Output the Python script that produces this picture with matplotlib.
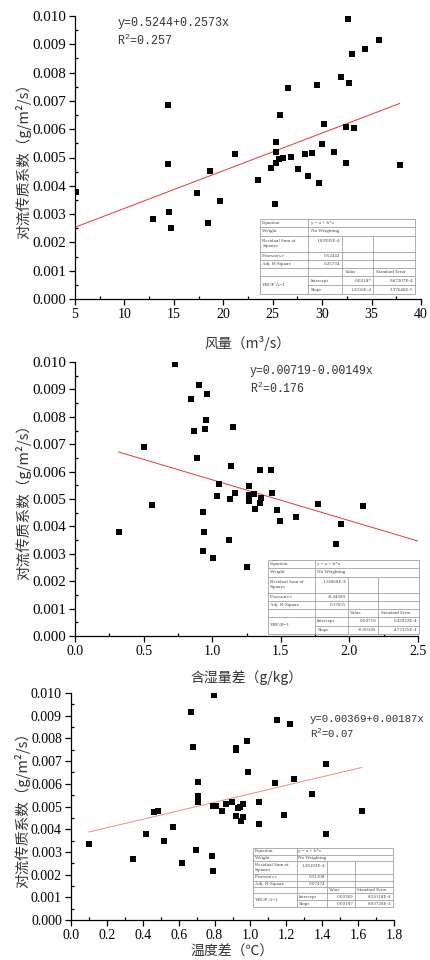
import matplotlib
matplotlib.use('Agg')
import matplotlib.pyplot as plt
from matplotlib.ticker import MultipleLocator, FormatStrFormatter
from matplotlib.patches import Rectangle
from matplotlib.lines import Line2D
import numpy as np

# ---------------- data ----------------
wind_x = [5.13, 12.93, 14.42, 14.38, 14.48, 14.75, 17.39, 18.50, 18.70, 19.65,
          21.20, 23.53, 24.81, 25.25, 25.38, 25.38, 25.38, 25.65, 25.76, 25.99,
          26.53, 26.80, 27.51, 28.25, 28.52, 28.93, 29.50, 29.71, 30.01, 30.21,
          31.16, 31.94, 32.38, 32.41, 32.62, 32.72, 33.05, 33.22, 34.36, 35.78, 37.84]
wind_y = [0.00378, 0.00282, 0.00687, 0.00478, 0.00309, 0.00251, 0.00376, 0.00267, 0.00452, 0.00348,
          0.00512, 0.00420, 0.00462, 0.00335, 0.00554, 0.00520, 0.00481, 0.00496, 0.00649, 0.00500,
          0.00747, 0.00502, 0.00458, 0.00511, 0.00434, 0.00516, 0.00756, 0.00409, 0.00547, 0.00620,
          0.00521, 0.00786, 0.00481, 0.00607, 0.00991, 0.00764, 0.00865, 0.00604, 0.00884, 0.00916, 0.00473]

hum_x = [0.318, 0.500, 0.559, 0.726, 0.843, 0.867, 0.892, 0.901, 0.935, 0.935,
         0.940, 0.948, 0.955, 0.965, 1.008, 1.033, 1.052, 1.122, 1.132, 1.135,
         1.149, 1.169, 1.256, 1.268, 1.271, 1.271, 1.302, 1.310, 1.346, 1.351,
         1.353, 1.431, 1.438, 1.455, 1.475, 1.494, 1.613, 1.771, 1.905, 1.941, 2.099]
hum_y = [0.00378, 0.00688, 0.00479, 0.00991, 0.00865, 0.00748, 0.00650, 0.00917, 0.00452, 0.00310,
         0.00378, 0.00756, 0.00787, 0.00883, 0.00283, 0.00512, 0.00556, 0.00349, 0.00500, 0.00622,
         0.00763, 0.00521, 0.00252, 0.00494, 0.00548, 0.00515, 0.00520, 0.00462, 0.00605, 0.00484,
         0.00502, 0.00606, 0.00521, 0.00268, 0.00459, 0.00421, 0.00434, 0.00480, 0.00335, 0.00410, 0.00474]

temp_x = [0.100, 0.347, 0.416, 0.462, 0.486, 0.516, 0.566, 0.616, 0.670, 0.681,
          0.696, 0.705, 0.705, 0.705, 0.785, 0.790, 0.792, 0.796, 0.807, 0.841,
          0.861, 0.896, 0.917, 0.920, 0.920, 0.933, 0.941, 0.945, 0.961, 0.961,
          0.982, 0.985, 1.045, 1.045, 1.139, 1.150, 1.186, 1.221, 1.240, 1.345,
          1.420, 1.420, 1.620]
temp_y = [0.00336, 0.00268, 0.00378, 0.00475, 0.00482, 0.00349, 0.00411, 0.00252, 0.00918, 0.00764,
          0.00309, 0.00609, 0.00548, 0.00518, 0.00284, 0.00214, 0.00504, 0.00991, 0.00501, 0.00482,
          0.00512, 0.00522, 0.00748, 0.00758, 0.00459, 0.00494, 0.00497, 0.00435, 0.00512, 0.00452,
          0.00787, 0.00650, 0.00522, 0.00421, 0.00604, 0.00883, 0.00463, 0.00865, 0.00622, 0.00556,
          0.00689, 0.00378, 0.00478]

# linear fits (intercept, slope) and drawn x-range of the fit line
wind_fit = (0.00187, 1.3316e-4)
hum_fit = (0.00719, -0.00149)
temp_fit = (0.00369, 0.00187)
wind_fit_range = [5.0, 37.84]
hum_fit_range = [0.318, 2.5]
temp_fit_range = [0.100, 1.620]

# annotation texts
wind_eq = ["y=0.5244+0.2573x", "R$^2$=0.257"]
hum_eq = ["y=0.00719-0.00149x", "R$^2$=0.176"]
temp_eq = ["y=0.00369+0.00187x", "R$^2$=0.07"]

# axis labels
ylabel_txt = "对流传质系数（g/m²/s）"
wind_xlabel = "风量（m³/s）"
hum_xlabel = "含湿量差（g/kg）"
temp_xlabel = "温度差（℃）"

# fit tables
wind_table = ["y = a + b*x", "No Weighting", "1.02995E-4", "0.52442", "0.25734",
              "YBOP:A=1", "0.00187", "9.67207E-4", "1.3316E-4", "3.37646E-5"]
hum_table = ["y = a + b*x", "No Weighting", "1.14068E-4", "-0.44289", "0.17655",
             "YBP:B=1", "0.00719", "6.42922E-4", "-0.00149", "4.72325E-4"]
temp_table = ["y = a + b*x", "No Weighting", "1.28193E-4", "0.31108", "0.07474",
              "YBOP:A=1", "0.00369", "8.24118E-4", "0.00187", "8.93728E-4"]

# ---------------- drawing ----------------
CJK = ['Noto Sans CJK SC', 'DejaVu Sans']
SERIF = ['Liberation Serif', 'DejaVu Serif']
MONO = ['Liberation Mono', 'DejaVu Sans Mono']
plt.rcParams['mathtext.fontset'] = 'custom'
plt.rcParams['mathtext.rm'] = 'Liberation Mono'

fig = plt.figure(figsize=(4.3, 9.6), dpi=100)


def draw_table(ax, bbox, t):
    x0, y0, x1, y1 = bbox
    cols = np.array([0, 145, 247, 340, 465]) / 465.0
    rows = np.array([0, 25, 50, 99, 124, 148, 172, 199, 225]) / 225.0
    X = x0 + cols * (x1 - x0)
    Y = y1 - rows * (y1 - y0)
    ec = '#a0a0a0'
    lw = 0.6
    kw = dict(transform=ax.transAxes, clip_on=False, zorder=6)
    ax.add_patch(Rectangle((x0, y0), x1 - x0, y1 - y0, facecolor='white',
                           edgecolor=ec, lw=lw, transform=ax.transAxes,
                           clip_on=False, zorder=5))
    for i in range(1, 8):
        xs = X[0] if i != 7 else X[1]
        ax.add_line(Line2D([xs, X[4]], [Y[i], Y[i]], color=ec, lw=lw, **kw))
    ax.add_line(Line2D([X[1], X[1]], [Y[0], Y[8]], color=ec, lw=lw, **kw))
    for c in (2, 3):
        ax.add_line(Line2D([X[c], X[c]], [Y[2], Y[8]], color=ec, lw=lw, **kw))
    fs = 3.6
    tk = dict(transform=ax.transAxes, fontsize=fs, family=SERIF, color='#444444',
              zorder=7, clip_on=False)
    padx = 0.006
    def cell(r, c, s, ha='left', va='center', r2=None):
        if ha == 'left':
            xx = X[c] + padx
        else:
            xx = X[c + 1] - padx
        if va == 'center':
            yy = (Y[r] + Y[r + 1 if r2 is None else r2]) / 2
        else:
            yy = Y[r] - 0.012
        ax.text(xx, yy, s, ha=ha, va=va, **tk)
    cell(0, 0, "Equation"); cell(0, 1, t[0])
    cell(1, 0, "Weight"); cell(1, 1, t[1])
    cell(2, 0, "Residual Sum of\nSquares"); cell(2, 1, t[2], ha='right', va='top')
    cell(3, 0, "Pearson's r"); cell(3, 1, t[3], ha='right')
    cell(4, 0, "Adj. R-Square"); cell(4, 1, t[4], ha='right')
    cell(5, 2, "Value"); cell(5, 3, "Standard Error")
    cell(6, 0, t[5], r2=8)
    cell(6, 1, "Intercept"); cell(6, 2, t[6], ha='right'); cell(6, 3, t[7], ha='right')
    cell(7, 1, "Slope"); cell(7, 2, t[8], ha='right'); cell(7, 3, t[9], ha='right')


def panel(rect, x, y, fit, frange, linecolor, xlim, xmaj, xfmt, xlabel,
          eq, eqpos, eqfs, table, tbbox, ytick_fs, xtick_fs, xlabelpad):
    ax = fig.add_axes(rect)
    ax.scatter(x, y, marker='s', s=19, c='black', linewidths=0, zorder=3)
    xf = np.array(frange)
    ax.plot(xf, fit[0] + fit[1] * xf, color=linecolor, lw=0.75, zorder=2)
    ax.set_xlim(*xlim)
    ax.set_ylim(0, 0.010)
    for s in ('top', 'right'):
        ax.spines[s].set_visible(False)
    for s in ('left', 'bottom'):
        ax.spines[s].set_linewidth(0.9)
    ax.yaxis.set_major_locator(MultipleLocator(0.001))
    ax.yaxis.set_minor_locator(MultipleLocator(0.0005))
    ax.yaxis.set_major_formatter(FormatStrFormatter('%.3f'))
    ax.xaxis.set_major_locator(MultipleLocator(xmaj))
    ax.xaxis.set_minor_locator(MultipleLocator(xmaj / 2))
    ax.xaxis.set_major_formatter(FormatStrFormatter(xfmt))
    ax.tick_params(which='major', direction='out', length=4.5, width=0.9, pad=2)
    ax.tick_params(which='minor', direction='in', length=2.5, width=0.9)
    for lab in ax.get_yticklabels():
        lab.set_family(SERIF); lab.set_fontsize(ytick_fs)
    for lab in ax.get_xticklabels():
        lab.set_family(SERIF); lab.set_fontsize(xtick_fs)
    ax.set_ylabel(ylabel_txt, family=CJK, fontsize=10.5, color='#333333')
    ax.yaxis.set_label_coords(-0.127, 0.5)
    ax.set_xlabel(xlabel, family=CJK, fontsize=10, color='#333333', labelpad=xlabelpad)
    ax.text(eqpos[0], eqpos[1], eq[0], transform=ax.transAxes, family=MONO,
            fontsize=eqfs, color='#333333', va='center', ha='left')
    ax.text(eqpos[0], eqpos[1] - 0.062, eq[1], transform=ax.transAxes, family=MONO,
            fontsize=eqfs, color='#333333', va='center', ha='left')
    draw_table(ax, tbbox, table)
    return ax


W, H = 430.0, 960.0

def rect_px(l, t, r, b):
    return [l / W, 1 - b / H, (r - l) / W, (b - t) / H]

ax1 = panel(rect_px(75, 16, 421, 299), wind_x, wind_y, wind_fit, wind_fit_range,
            '#e8413c', (5, 40), 5, '%d', wind_xlabel, wind_eq, (0.122, 0.975), 8.4,
            wind_table, (0.535, 0.018, 0.983, 0.283), 10.8, 10, 11)

ax2 = panel(rect_px(75, 362, 418, 636), hum_x, hum_y, hum_fit, hum_fit_range,
            '#e8413c', (0, 2.5), 0.5, '%.1f', hum_xlabel, hum_eq, (0.51, 0.967), 8.3,
            hum_table, (0.563, 0.007, 1.003, 0.277), 10.8, 10, 9)

ax3 = panel(rect_px(71, 693, 394, 920), temp_x, temp_y, temp_fit, temp_fit_range,
            '#f09090', (0, 1.8), 0.2, '%.1f', temp_xlabel, temp_eq, (0.74, 0.885), 7.7,
            temp_table, (0.563, 0.057, 0.997, 0.317), 10, 10, 2)

fig.savefig('out.png', dpi=100)
